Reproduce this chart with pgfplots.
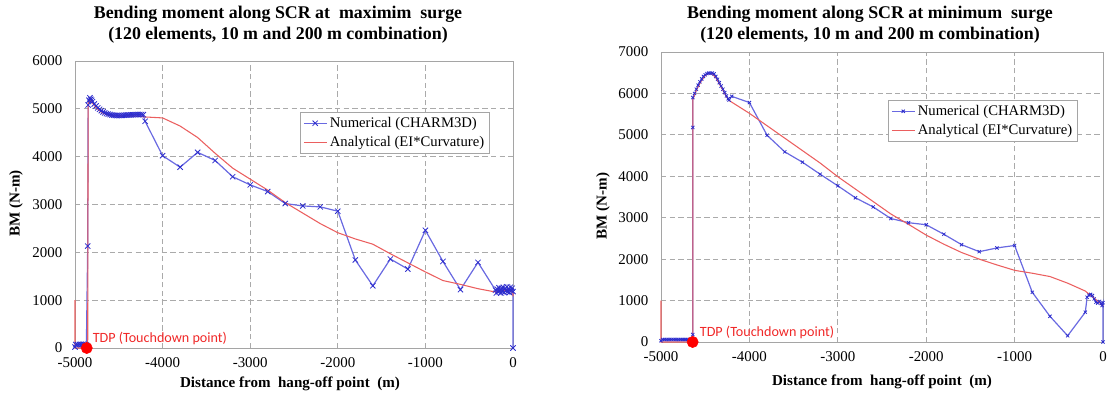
\documentclass[border=0pt]{standalone}
\usepackage{pgfplots}
\pgfplotsset{compat=1.18}
\usepackage{fontspec}
\setmainfont{Liberation Serif}
\newfontfamily\calfont{Carlito}
\definecolor{numline}{RGB}{105,105,225}
\definecolor{nummark}{RGB}{45,45,205}
\definecolor{anared}{RGB}{235,95,95}
\definecolor{tdpred}{RGB}{240,40,40}
\definecolor{gridc}{RGB}{170,170,170}
\definecolor{framec}{RGB}{165,165,165}

\pgfplotsset{
  bmstyle/.style={
    scale only axis, clip=false,
    xmin=-5000, xmax=0, ymin=0,
    xtick={-5000,-4000,-3000,-2000,-1000,0},
    xticklabels={-5000,-4000,-3000,-2000,-1000,0},
    major tick length=0pt,
    grid=major,
    major grid style={gridc, dash pattern=on 4pt off 2.5pt, line width=0.6pt},
    axis line style={framec, line width=0.7pt},
    tick label style={font=\fontsize{11.2}{13}\selectfont},
    xticklabel style={yshift=-4pt},
    yticklabel style={xshift=-6pt},
    legend style={draw=framec, fill=white, line width=0.6pt,
      font=\fontsize{11}{12.5}\selectfont, inner xsep=2pt, inner ysep=1.5pt,
      row sep=1.5pt},
    legend cell align=left,
  }
}

\begin{document}
\begin{tikzpicture}
\useasboundingbox (0,0) rectangle (830.25pt,296.25pt);

% ---------------- Left chart ----------------
\node[align=center, font=\bfseries\fontsize{13.4}{15.75}\selectfont] at (208.5pt,277.5pt)
  {Bending moment along SCR at\ \ maximim\ \ surge\\(120 elements, 10 m and 200 m combination)};
\node[rotate=90, font=\bfseries\fontsize{11.3}{13}\selectfont] at (12pt,143.6pt) {BM (N-m)};
\node[font=\bfseries\fontsize{11.3}{13}\selectfont] at (217.5pt,8.5pt) {Distance from\ \ hang-off point\ \ (m)};

\begin{axis}[bmstyle,
  at={(56.25pt,35.25pt)}, anchor=south west,
  width=328.5pt, height=215.25pt,
  ymax=6000, ytick={0,1000,2000,3000,4000,5000,6000},
  yticklabels={0,1000,2000,3000,4000,5000,6000},
  legend style={at={(0.514,0.822)}, anchor=north west},
]
\addplot[numline, line width=0.9pt, mark=x, mark size=2.8pt,
  mark options={nummark, line width=0.6pt}] coordinates {
(-5000,20) (-4990,70) (-4970,70) (-4950,75) (-4930,75) (-4910,75) (-4890,70) (-4870,60)
(-4855,2130) (-4850,5080) (-4840,5180) (-4830,5230) (-4820,5200) (-4810,5180)
(-4800,5150) (-4780,5100) (-4760,5060) (-4740,5020) (-4720,4990) (-4700,4960)
(-4680,4935) (-4660,4915) (-4640,4900) (-4620,4890) (-4600,4880) (-4580,4872)
(-4560,4866) (-4540,4862) (-4520,4860) (-4500,4860) (-4480,4862) (-4460,4864)
(-4440,4866) (-4420,4868) (-4400,4870) (-4380,4872) (-4360,4874) (-4340,4876)
(-4320,4878) (-4300,4880) (-4280,4880) (-4260,4880) (-4240,4880) (-4220,4878)
(-4200,4740) (-4000,4020) (-3800,3780) (-3600,4090) (-3400,3920) (-3200,3580)
(-3000,3410) (-2800,3270) (-2600,3020) (-2400,2970) (-2200,2950) (-2000,2860)
(-1800,1840) (-1600,1300) (-1400,1860) (-1200,1650) (-1000,2460) (-800,1810)
(-600,1220) (-400,1790) (-200,1210)
(-190,1150) (-180,1230) (-170,1180) (-160,1260) (-150,1200) (-140,1150)
(-130,1250) (-120,1190) (-110,1270) (-100,1160) (-90,1240) (-80,1200)
(-70,1280) (-60,1180) (-50,1230) (-40,1160) (-30,1270) (-20,1200)
(-10,1250) (0,1180) (0,0)
};
\addlegendentry{Numerical (CHARM3D)}
\addplot[anared, line width=0.8pt, mark=none] coordinates {
(-5000,1000) (-5000,0) (-4855,0) (-4850,5100) (-4830,5180) (-4800,5120)
(-4760,5030) (-4720,4960) (-4680,4910) (-4640,4880) (-4600,4860) (-4500,4850)
(-4400,4850) (-4300,4850) (-4200,4830) (-4000,4810) (-3800,4640) (-3600,4400)
(-3400,4070) (-3200,3760) (-3000,3530) (-2800,3300) (-2600,3040) (-2400,2820)
(-2200,2600) (-2000,2410) (-1800,2280) (-1600,2170) (-1400,1970) (-1200,1780)
(-1000,1590) (-800,1410) (-600,1330) (-400,1240) (-200,1170) (-100,1200)
(-50,1230) (0,1150) (0,1080)
};
\addlegendentry{Analytical (EI*Curvature)}
\addplot[only marks, mark=*, mark size=4.2pt, color=red, forget plot] coordinates {(-4866,0)};
\node[anchor=west, text=tdpred, font=\calfont\fontsize{10.6}{12}\selectfont, inner sep=0pt]
  at (axis cs:-4800,200) {TDP (Touchdown point)};
\end{axis}

% ---------------- Right chart ----------------
\node[align=center, font=\bfseries\fontsize{13.4}{15.75}\selectfont] at (652.5pt,277.5pt)
  {Bending moment along SCR at minimum\ \ surge\\(120 elements, 10 m and 200 m combination)};
\node[rotate=90, font=\bfseries\fontsize{11.3}{13}\selectfont] at (452.25pt,141.75pt) {BM (N-m)};
\node[font=\bfseries\fontsize{11.3}{13}\selectfont] at (661.5pt,10pt) {Distance from\ \ hang-off point\ \ (m)};

\begin{axis}[bmstyle,
  at={(495.75pt,39.75pt)}, anchor=south west,
  width=331.5pt, height=217.5pt,
  ymax=7000, ytick={0,1000,2000,3000,4000,5000,6000,7000},
  yticklabels={0,1000,2000,3000,4000,5000,6000,7000},
  legend style={at={(0.514,0.834)}, anchor=north west},
]
\addplot[numline, line width=0.9pt, mark=x, mark size=1.7pt,
  mark options={nummark, line width=0.6pt}] coordinates {
(-5000,30) (-4980,60) (-4960,60) (-4940,60) (-4920,60) (-4900,60) (-4880,60)
(-4860,60) (-4840,60) (-4820,60) (-4800,60) (-4780,60) (-4760,60) (-4740,60)
(-4720,60) (-4700,60) (-4680,60) (-4660,60)
(-4640,180) (-4640,5180) (-4640,5900) (-4620,6000) (-4600,6100) (-4580,6200)
(-4560,6280) (-4540,6350) (-4520,6410) (-4500,6450) (-4480,6480) (-4460,6490)
(-4440,6490) (-4420,6490) (-4400,6470) (-4380,6410) (-4360,6340) (-4340,6260)
(-4320,6180) (-4300,6100) (-4280,6020) (-4260,5940) (-4240,5870) (-4230,5840)
(-4200,5930) (-4000,5780) (-3800,4990) (-3600,4590) (-3400,4340) (-3200,4050)
(-3000,3770) (-2800,3480) (-2600,3260) (-2400,2980) (-2200,2880) (-2000,2830)
(-1800,2600) (-1600,2350) (-1400,2180) (-1200,2270) (-1000,2330) (-800,1200)
(-600,620) (-400,150) (-200,720) (-180,1080) (-160,1130) (-140,1150)
(-120,1120) (-100,1040) (-80,960) (-60,940) (-40,980) (-20,930) (-10,880)
(0,950) (0,0)
};
\addlegendentry{Numerical (CHARM3D)}
\addplot[anared, line width=0.8pt, mark=none] coordinates {
(-5000,1000) (-5000,0) (-4640,0) (-4640,5850) (-4600,6080) (-4550,6280)
(-4500,6430) (-4460,6480) (-4420,6470) (-4380,6380) (-4340,6230) (-4300,6080)
(-4260,5920) (-4230,5830) (-4000,5520) (-3800,5220) (-3600,4920) (-3400,4620)
(-3200,4320) (-3000,3990) (-2800,3690) (-2600,3390) (-2400,3090) (-2200,2840)
(-2000,2580) (-1800,2360) (-1600,2160) (-1400,2000) (-1200,1860) (-1000,1730)
(-800,1660) (-600,1580) (-400,1420) (-200,1230) (-150,1140) (-100,1060)
(-50,970) (0,870)
};
\addlegendentry{Analytical (EI*Curvature)}
\addplot[only marks, mark=*, mark size=4.2pt, color=red, forget plot] coordinates {(-4642,0)};
\node[anchor=west, text=tdpred, font=\calfont\fontsize{10.6}{12}\selectfont, inner sep=0pt]
  at (axis cs:-4563,226) {TDP (Touchdown point)};
\end{axis}
\end{tikzpicture}
\end{document}
